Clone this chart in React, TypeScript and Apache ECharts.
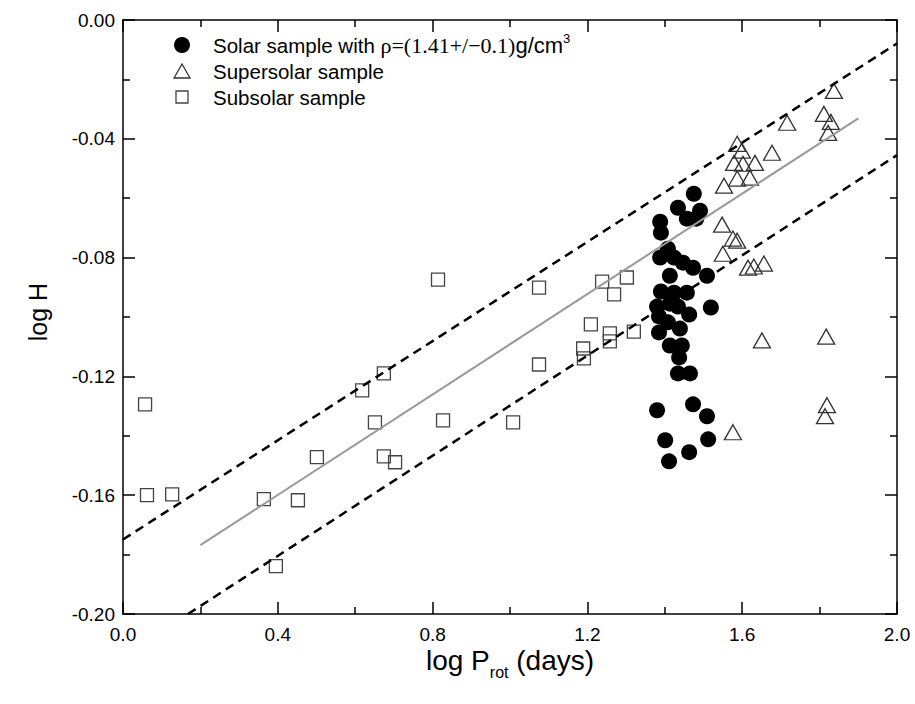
import React, { useEffect, useRef } from "react";
import * as echarts from "echarts";

// ---- data (log P_rot, log H) ----
const solarSample: number[][] = [
  [1.475, -0.0585], [1.434, -0.0632], [1.457, -0.0669], [1.491, -0.0642], [1.481, -0.0669],
  [1.388, -0.0679], [1.39, -0.0716], [1.408, -0.077], [1.388, -0.08], [1.424, -0.08],
  [1.447, -0.0817], [1.473, -0.0834], [1.413, -0.0861], [1.509, -0.0861], [1.39, -0.0914],
  [1.424, -0.0918], [1.457, -0.0918], [1.38, -0.0965], [1.413, -0.0955], [1.434, -0.0965],
  [1.519, -0.0968], [1.463, -0.0992], [1.385, -0.0998], [1.408, -0.1018], [1.439, -0.1039],
  [1.385, -0.1052], [1.413, -0.1096], [1.444, -0.1096], [1.437, -0.1136], [1.434, -0.119],
  [1.465, -0.119], [1.38, -0.1314], [1.473, -0.1294], [1.509, -0.1334], [1.401, -0.1415],
  [1.512, -0.1412], [1.463, -0.1455], [1.411, -0.1486],
];

const supersolarSample: number[][] = [
  [1.837, -0.0239], [1.811, -0.0316], [1.829, -0.0343], [1.822, -0.038], [1.716, -0.0346],
  [1.587, -0.0417], [1.599, -0.044], [1.677, -0.0447], [1.579, -0.0481], [1.602, -0.0484],
  [1.633, -0.0481], [1.587, -0.0534], [1.62, -0.0531], [1.553, -0.0558], [1.548, -0.0689],
  [1.576, -0.0736], [1.587, -0.0743], [1.55, -0.0787], [1.615, -0.0834], [1.63, -0.083],
  [1.656, -0.082], [1.651, -0.1079], [1.817, -0.1066], [1.819, -0.1297], [1.814, -0.1334],
  [1.576, -0.1388],
];

const subsolarSample: number[][] = [
  [0.057, -0.1294], [0.062, -0.16], [0.127, -0.1597], [0.364, -0.1613], [0.452, -0.1617],
  [0.395, -0.1839], [0.501, -0.1472], [0.618, -0.1247], [0.651, -0.1355], [0.674, -0.1469],
  [0.674, -0.119], [0.703, -0.1489], [0.814, -0.0874], [0.827, -0.1348], [1.008, -0.1355],
  [1.075, -0.0901], [1.075, -0.116], [1.189, -0.1106], [1.191, -0.1139], [1.209, -0.1025],
  [1.238, -0.0881], [1.258, -0.1055], [1.258, -0.1082], [1.269, -0.0924], [1.302, -0.0867],
  [1.32, -0.1049],
];

const fitLine: number[][] = [[0.2, -0.1768], [1.9, -0.0331]];
const upperBound: number[][] = [[0.0, -0.1749], [2.0, -0.0079]];
const lowerBound: number[][] = [[0.168, -0.2], [2.0, -0.0455]];

const xRange = { min: 0, max: 2, interval: 0.4 };
const yRange = { min: -0.2, max: 0, interval: 0.04 };

const legendLabels = [
  "{a|Solar sample with }{b|ρ=(1.41+/−0.1)}{d|g/cm}{c|3}",
  "{a|Supersolar sample}",
  "{a|Subsolar sample}",
];

const SANS = "Liberation Sans, Arial, sans-serif";

export default function App() {
  const ref = useRef<HTMLDivElement>(null);
  useEffect(() => {
    document.body.style.margin = "0";
    const chart = echarts.init(ref.current!, null, { renderer: "svg" });

    const axisLine = { show: true, onZero: false, lineStyle: { color: "#000", width: 1.5 } };
    const axisTick = { show: true, inside: true, length: 12, lineStyle: { color: "#000", width: 1.5 } };
    const minorTick = { show: true, splitNumber: 2, length: 7, lineStyle: { color: "#000", width: 1.5 } };
    const labelStyle = { color: "#000", fontSize: 19, fontFamily: SANS, margin: 8 };

    const rowY = [45, 71, 97];
    const markerX = 182;
    const textX = 213;
    const richStyles = {
      a: { fontFamily: SANS, fontSize: 20.5, lineHeight: 26, fill: "#000" },
      b: { font: "22px 'Liberation Serif', 'Times New Roman', serif", fontFamily: "Liberation Serif", fontSize: 22, lineHeight: 26, fill: "#000" },
      d: { fontFamily: SANS, fontSize: 22, lineHeight: 26, fill: "#000" },
      c: { fontFamily: SANS, fontSize: 13, lineHeight: 14, verticalAlign: "top", fill: "#000" },
    };

    const option: any = {
      animation: false,
      backgroundColor: "#fff",
      grid: { left: 123, right: 18, top: 20, bottom: 90, containLabel: false },
      xAxis: [
        {
          type: "value", ...xRange, position: "bottom",
          axisLine, axisTick, minorTick,
          axisLabel: { ...labelStyle, margin: 11, formatter: (v: number) => v.toFixed(1) },
          splitLine: { show: false }, minorSplitLine: { show: false },
        },
        {
          type: "value", ...xRange, position: "top",
          axisLine, axisTick, minorTick,
          axisLabel: { show: false },
          splitLine: { show: false },
        },
      ],
      yAxis: [
        {
          type: "value", ...yRange, position: "left",
          axisLine, axisTick, minorTick,
          axisLabel: { ...labelStyle, formatter: (v: number) => (Math.abs(v) < 1e-9 ? "0.00" : v.toFixed(2)) },
          splitLine: { show: false },
        },
        {
          type: "value", ...yRange, position: "right",
          axisLine, axisTick, minorTick,
          axisLabel: { show: false },
          splitLine: { show: false },
        },
      ],
      series: [
        {
          name: "Subsolar sample", type: "scatter", data: subsolarSample, z: 2,
          symbol: "rect", symbolSize: 13,
          itemStyle: { color: "rgba(0,0,0,0)", borderColor: "#444", borderWidth: 1.3, opacity: 1 },
        },
        {
          name: "Supersolar sample", type: "scatter", data: supersolarSample, z: 2,
          symbol: "triangle", symbolSize: [17, 15],
          itemStyle: { color: "rgba(0,0,0,0)", borderColor: "#333", borderWidth: 1.3, opacity: 1 },
        },
        {
          name: "Solar sample", type: "scatter", data: solarSample, z: 2,
          symbol: "circle", symbolSize: 16,
          itemStyle: { color: "#000", opacity: 1 },
        },
        {
          type: "line", data: fitLine, z: 3, showSymbol: false, symbol: "none",
          lineStyle: { color: "#999", width: 2 },
        },
        {
          type: "line", data: upperBound, z: 3, showSymbol: false, symbol: "none",
          lineStyle: { color: "#000", width: 2.5, type: [9, 6] },
        },
        {
          type: "line", data: lowerBound, z: 3, showSymbol: false, symbol: "none",
          lineStyle: { color: "#000", width: 2.5, type: [9, 6] },
        },
      ],
      graphic: [
        // y-axis title
        {
          type: "text", x: 38, y: 312, rotation: Math.PI / 2,
          style: { text: "log H", fontFamily: SANS, fontSize: 25, fill: "#000", align: "center", verticalAlign: "middle" },
        },
        // x-axis title
        {
          type: "text", x: 510, y: 660,
          style: {
            text: "{a|log P}{b|rot}{a| (days)}",
            align: "center", verticalAlign: "middle",
            rich: {
              a: { fontFamily: SANS, fontSize: 28, lineHeight: 40, fill: "#000" },
              b: { fontFamily: SANS, fontSize: 16, lineHeight: 17, verticalAlign: "bottom", fill: "#000" },
            },
          },
        },
        // legend markers
        { type: "circle", shape: { cx: markerX, cy: rowY[0], r: 8 }, style: { fill: "#000" } },
        {
          type: "polygon",
          shape: { points: [[markerX, rowY[1] - 7], [markerX + 8, rowY[1] + 7], [markerX - 8, rowY[1] + 7]] },
          style: { fill: "none", stroke: "#333", lineWidth: 1.3 },
        },
        {
          type: "rect", shape: { x: markerX - 6, y: rowY[2] - 6, width: 12, height: 12 },
          style: { fill: "none", stroke: "#444", lineWidth: 1.3 },
        },
        // legend texts
        ...legendLabels.map((t, i) => ({
          type: "text", x: textX, y: rowY[i],
          style: { text: t, align: "left", verticalAlign: "middle", rich: richStyles },
        })),
      ],
    };

    chart.setOption(option);
    return () => chart.dispose();
  }, []);
  return <div ref={ref} style={{ width: 915, height: 704 }} />;
}
